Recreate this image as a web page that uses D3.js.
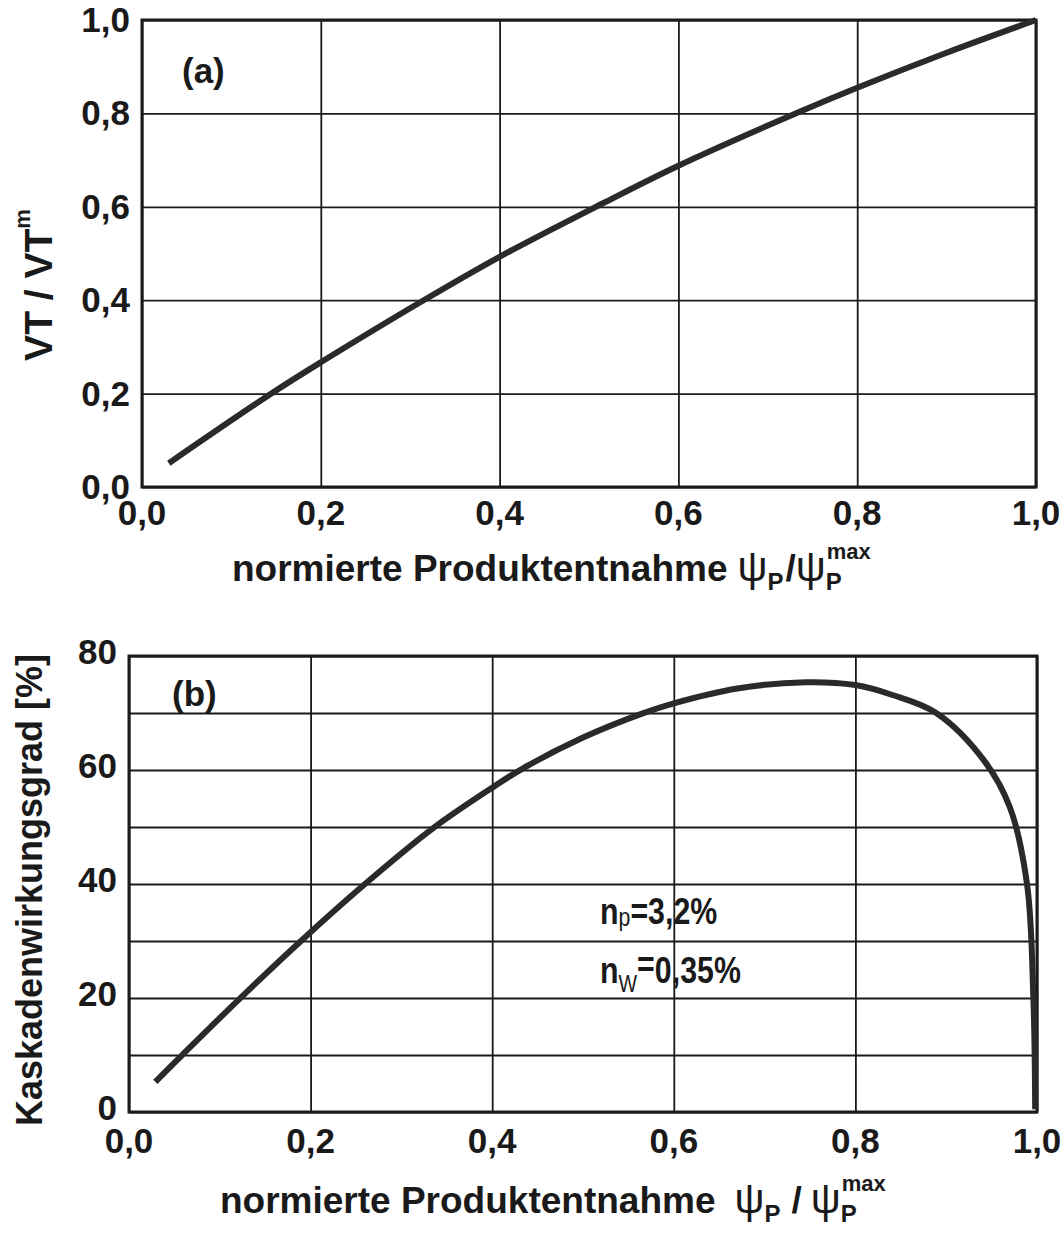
<!DOCTYPE html>
<html>
<head>
<meta charset="utf-8">
<script src="https://cdn.jsdelivr.net/npm/d3@7"></script>
<style>
  html, body { margin: 0; padding: 0; background: #fff; }
  svg text { font-family: "Liberation Sans", Arial, sans-serif; font-weight: bold; fill: #1a1a1a; }
</style>
</head>
<body>
<svg id="chart" width="1060" height="1242"></svg>
<script>
// Shared x axis: normalized product withdrawal
const xTicks = [0, 0.2, 0.4, 0.6, 0.8, 1.0];
const xTickLabels = ["0,0", "0,2", "0,4", "0,6", "0,8", "1,0"];

// Panel (a): normalized separative work VT/VT^m
const yTicksA = [0, 0.2, 0.4, 0.6, 0.8, 1.0];
const yTickLabelsA = ["0,0", "0,2", "0,4", "0,6", "0,8", "1,0"];
const psiA = [0.03, 0.143, 0.20, 0.316, 0.40, 0.515, 0.60, 0.735, 0.80, 0.90, 1.00];
const vtA  = [0.051, 0.198, 0.267, 0.401, 0.493, 0.607, 0.688, 0.803, 0.855, 0.93, 1.00];

// Panel (b): cascade efficiency in percent
const yTicksB = [0, 20, 40, 60, 80];
const yTickLabelsB = ["0", "20", "40", "60", "80"];
const yGridB = [0, 10, 20, 30, 40, 50, 60, 70, 80];
const psiB = [0.029, 0.058, 0.122, 0.19, 0.257, 0.335, 0.40, 0.434, 0.50, 0.565, 0.60, 0.67, 0.745, 0.80, 0.84, 0.889, 0.942, 0.97, 0.989, 0.996, 0.998];
const etaB = [5.3, 9.9, 19.9, 30.1, 39.6, 49.8, 56.9, 60.3, 65.7, 69.9, 71.7, 74.3, 75.4, 74.9, 73.2, 70.0, 61.6, 53.5, 40.0, 20.0, 0.5];

const svg = d3.select("#chart");
const ink = "#1a1a1a";

function panel(cfg) {
  const g = svg.append("g");
  const x = d3.scaleLinear().domain([0, 1]).range([cfg.left, cfg.right]);
  const y = d3.scaleLinear().domain(cfg.yDomain).range([cfg.bottom, cfg.top]);

  // grid lines
  g.append("g")
    .attr("transform", `translate(0,${cfg.bottom})`)
    .call(d3.axisBottom(x).tickValues(xTicks).tickSize(-(cfg.bottom - cfg.top)).tickFormat(""))
    .call(s => s.select(".domain").remove())
    .call(s => s.selectAll("line").attr("stroke", ink).attr("stroke-width", 1.8));
  g.append("g")
    .attr("transform", `translate(${cfg.left},0)`)
    .call(d3.axisLeft(y).tickValues(cfg.yGrid).tickSize(-(cfg.right - cfg.left)).tickFormat(""))
    .call(s => s.select(".domain").remove())
    .call(s => s.selectAll("line").attr("stroke", ink).attr("stroke-width", 1.8));

  // frame
  g.append("rect")
    .attr("x", cfg.left).attr("y", cfg.top)
    .attr("width", cfg.right - cfg.left).attr("height", cfg.bottom - cfg.top)
    .attr("fill", "none").attr("stroke", ink).attr("stroke-width", 3);

  // curve
  const line = d3.line()
    .x((d, i) => x(cfg.xs[i]))
    .y((d, i) => y(cfg.ys[i]))
    .curve(d3.curveCatmullRom.alpha(0.5));
  g.append("path")
    .datum(cfg.xs)
    .attr("d", line)
    .attr("fill", "none")
    .attr("stroke", "#2a2a2a")
    .attr("stroke-width", 6)
    .attr("stroke-linecap", "butt");

  // x tick labels
  g.selectAll(".xl").data(xTicks).join("text")
    .attr("x", d => x(d))
    .attr("y", cfg.xLabelY)
    .attr("text-anchor", "middle")
    .attr("font-size", 35)
    .text((d, i) => xTickLabels[i]);

  // y tick labels
  g.selectAll(".yl").data(cfg.yTicks).join("text")
    .attr("x", cfg.left - 12)
    .attr("y", d => y(d) + cfg.yLabelDy)
    .attr("text-anchor", "end")
    .attr("font-size", 35)
    .text((d, i) => cfg.yLabels[i]);

  // panel tag
  g.append("text")
    .attr("x", cfg.tagX).attr("y", cfg.tagY)
    .attr("font-size", 35)
    .text(cfg.tag);

  return { x, y, g };
}

panel({
  left: 142, right: 1036, top: 20, bottom: 487,
  yDomain: [0, 1], yGrid: yTicksA, yTicks: yTicksA, yLabels: yTickLabelsA, yLabelDy: 12,
  xs: psiA, ys: vtA, xLabelY: 525, tag: "(a)", tagX: 182, tagY: 83
});

panel({
  left: 129, right: 1037, top: 656, bottom: 1112,
  yDomain: [0, 80], yGrid: yGridB, yTicks: yTicksB, yLabels: yTickLabelsB, yLabelDy: 8,
  xs: psiB, ys: etaB, xLabelY: 1153, tag: "(b)", tagX: 172, tagY: 706
});

// x axis titles
function xTitle(xPos, yPos, gap) {
  const t = svg.append("text")
    .attr("x", xPos).attr("y", yPos)
    .attr("font-size", 37);
  t.append("tspan").text("normierte Produktentnahme");
  t.append("tspan").attr("dx", 10 + gap).attr("font-size", 42).attr("font-weight", "normal").text("ψ");
  t.append("tspan").attr("font-size", 24).attr("dy", 9).text("P");
  t.append("tspan").attr("dy", -9).attr("font-size", 37).attr("dx", 2 + gap).text("/");
  t.append("tspan").attr("dx", gap).attr("font-size", 42).attr("font-weight", "normal").text("ψ");
  t.append("tspan").attr("font-size", 24).attr("dy", 9).text("P");
  t.append("tspan").attr("font-size", 22).attr("dx", -15).attr("dy", -31).text("max");
}
xTitle(232, 581, 0);
xTitle(220, 1213, 9);

// rotated y axis titles
const yA = svg.append("text")
  .attr("transform", "translate(52,285) rotate(-90)")
  .attr("text-anchor", "middle")
  .attr("font-size", 39);
yA.append("tspan").text("VT / VT");
yA.append("tspan").attr("font-size", 22).attr("dy", -22).text("m");

svg.append("text")
  .attr("transform", "translate(42,890) rotate(-90)")
  .attr("text-anchor", "middle")
  .attr("font-size", 36)
  .text("Kaskadenwirkungsgrad [%]");

// parameter annotation
const n1 = svg.append("text")
  .attr("transform", "translate(600,924) scale(0.82,1)")
  .attr("font-size", 37);
n1.append("tspan").text("n");
n1.append("tspan").attr("font-size", 26).attr("dy", 2).attr("font-weight", "normal").text("p");
n1.append("tspan").attr("dy", -2).text("=3,2%");

const n2 = svg.append("text")
  .attr("transform", "translate(600,983) scale(0.82,1)")
  .attr("font-size", 37);
n2.append("tspan").text("n");
n2.append("tspan").attr("font-size", 24).attr("dy", 9).attr("font-weight", "normal").text("W");
n2.append("tspan").attr("dy", -15).text("=");
n2.append("tspan").attr("dy", 6).text("0,35%");
</script>
</body>
</html>
